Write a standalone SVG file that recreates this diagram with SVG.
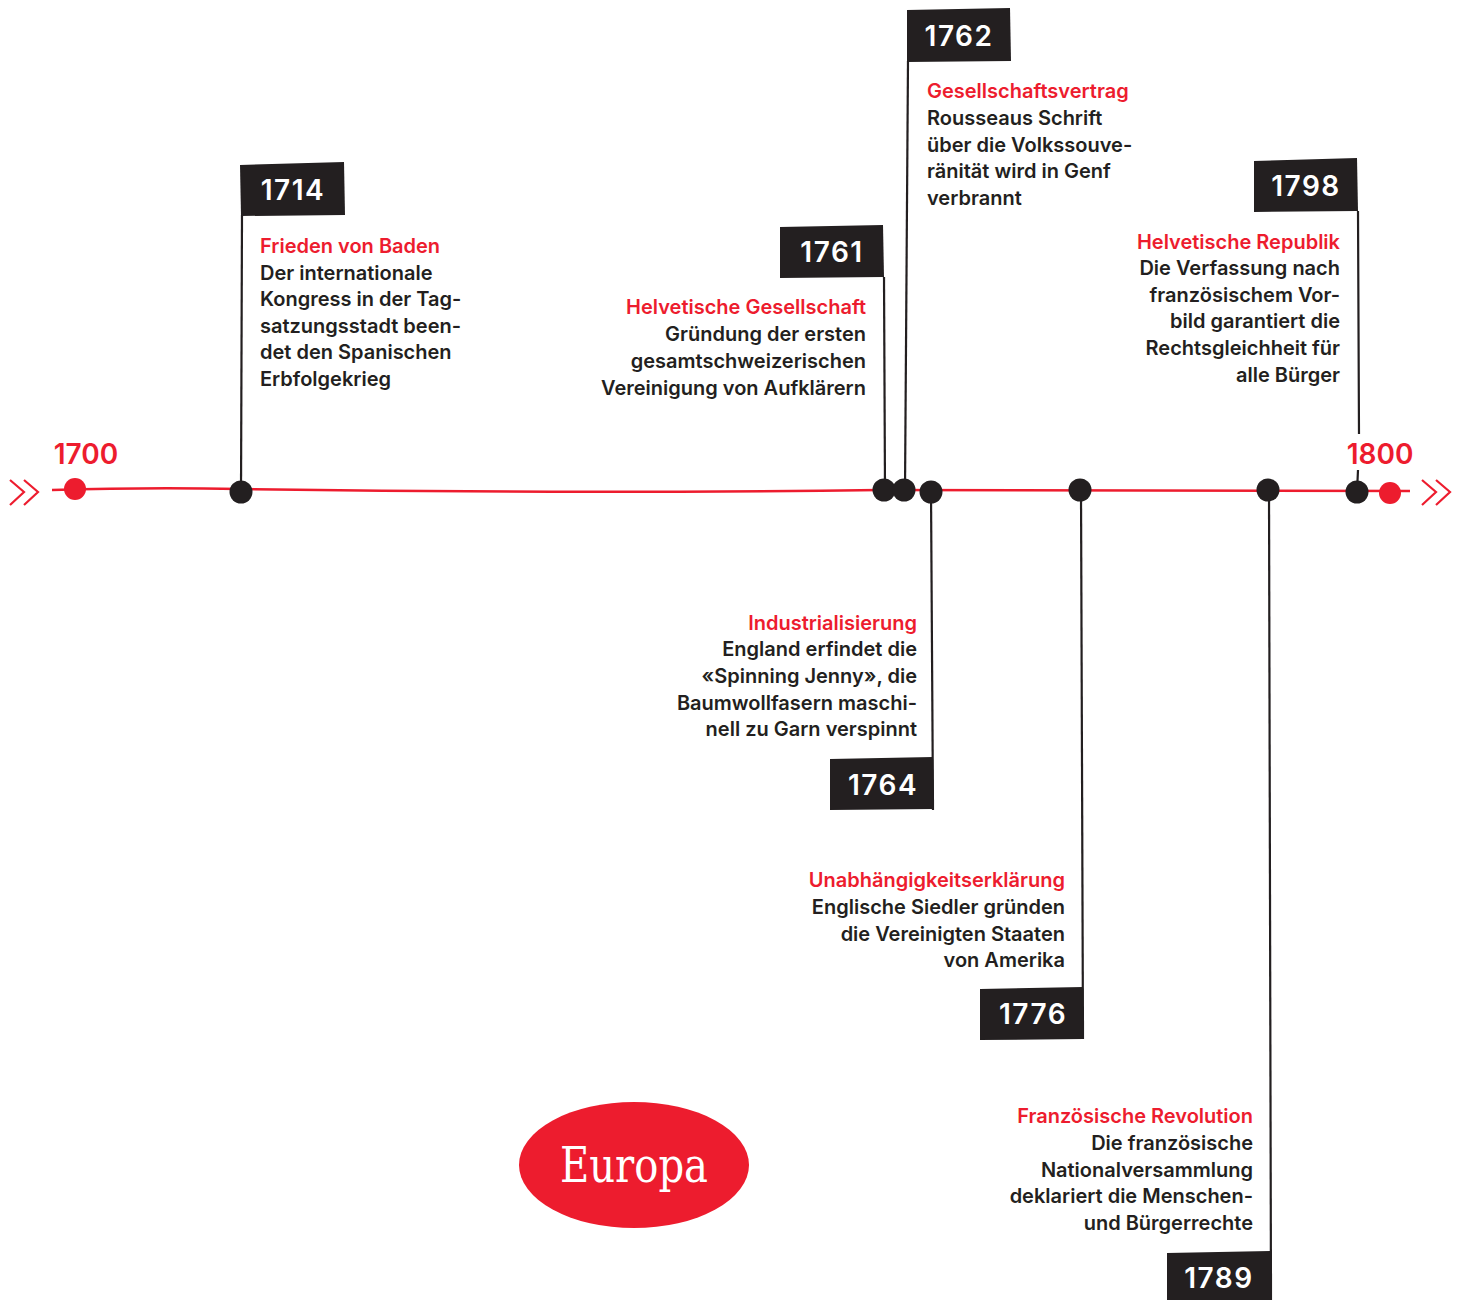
<svg xmlns="http://www.w3.org/2000/svg" width="1464" height="1300" viewBox="0 0 1464 1300">
<style>
.t{font-family:Inter,Roboto,"Liberation Sans",sans-serif;font-weight:600;font-size:20px;fill:#231F20}
.h{fill:#ED1C2E}
.r{text-anchor:end}
.tag{fill:#231F20}
.yr{font-family:Inter,Roboto,"Liberation Sans",sans-serif;font-weight:600;font-size:28px;fill:#fff;text-anchor:middle;letter-spacing:1.5px}
.big{font-family:Inter,Roboto,"Liberation Sans",sans-serif;font-weight:600;font-size:28px;fill:#ED1C2E;text-anchor:middle}
.stem{stroke:#231F20;stroke-width:2.2;fill:none}
.dot{fill:#231F20}
.rdot{fill:#ED1C2E}
.arr{stroke:#ED1C2E;stroke-width:2.2;fill:none}
</style>
<rect width="1464" height="1300" fill="#fff"/>
<g id="connectors">
<path d="M52 490 Q150 487 240 489 Q560 494 880 490 L1410 491" stroke="#ED1C2E" stroke-width="2.5" fill="none"/>
<path class="arr" d="M10 480 L24 492 L10 505 M24 480 L38 492 L24 505"/>
<path class="arr" d="M1422 480 L1436 492 L1422 505 M1436 480 L1450 492 L1436 505"/>
<path class="stem" d="M242 215 L241 492"/>
<path class="stem" d="M884 277 L885 490"/>
<path class="stem" d="M908 61 L905 490"/>
<path class="stem" d="M1358 211 L1359 434 M1358 470 L1357 492"/>
<path class="stem" d="M931 492 L933 810"/>
<path class="stem" d="M1081 490 L1083 1039"/>
<path class="stem" d="M1269 490 L1271 1300"/>
</g>
<g id="n1700"><circle class="rdot" cx="75" cy="489" r="11"/><text class="big" x="86" y="464">1700</text></g>
<g id="n1800"><circle class="rdot" cx="1390" cy="493" r="11"/><text class="big" x="1380" y="464">1800</text></g>
<g id="n1714">
<circle class="dot" cx="241" cy="492" r="11.5"/>
<path class="tag" d="M240 165 L344 162 L345 215 L241 216 Z"/>
<text class="yr" x="293" y="200">1714</text>
<text class="t h" x="260" y="253">Frieden von Baden</text>
<text class="t" x="260" y="280">Der internationale</text>
<text class="t" x="260" y="306">Kongress in der Tag-</text>
<text class="t" x="260" y="333">satzungsstadt been-</text>
<text class="t" x="260" y="359">det den Spanischen</text>
<text class="t" x="260" y="386">Erbfolgekrieg</text>
</g>
<g id="n1761">
<circle class="dot" cx="884" cy="490" r="11.5"/>
<path class="tag" d="M780 227 L883 225 L884 277 L780 278 Z"/>
<text class="yr" x="832" y="262">1761</text>
<text class="t h r" x="866" y="314">Helvetische Gesellschaft</text>
<text class="t r" x="866" y="341">Gründung der ersten</text>
<text class="t r" x="866" y="368">gesamtschweizerischen</text>
<text class="t r" x="866" y="395">Vereinigung von Aufklärern</text>
</g>
<g id="n1762">
<circle class="dot" cx="904" cy="490" r="11.5"/>
<path class="tag" d="M907 10 L1010 8 L1011 61 L907 62 Z"/>
<text class="yr" x="959" y="46">1762</text>
<text class="t h" x="927" y="98">Gesellschaftsvertrag</text>
<text class="t" x="927" y="125">Rousseaus Schrift</text>
<text class="t" x="927" y="152">über die Volkssouve-</text>
<text class="t" x="927" y="178">ränität wird in Genf</text>
<text class="t" x="927" y="205">verbrannt</text>
</g>
<g id="n1764">
<circle class="dot" cx="931" cy="492" r="11.5"/>
<path class="tag" d="M830 759 L933 757 L934 809 L830 810 Z"/>
<text class="yr" x="883" y="795">1764</text>
<text class="t h r" x="917" y="630">Industrialisierung</text>
<text class="t r" x="917" y="656">England erfindet die</text>
<text class="t r" x="917" y="683">«Spinning Jenny», die</text>
<text class="t r" x="917" y="710">Baumwollfasern maschi-</text>
<text class="t r" x="917" y="736">nell zu Garn verspinnt</text>
</g>
<g id="n1776">
<circle class="dot" cx="1080" cy="490" r="11.5"/>
<path class="tag" d="M980 989 L1083 987 L1084 1039 L980 1040 Z"/>
<text class="yr" x="1033" y="1024">1776</text>
<text class="t h r" x="1065" y="887">Unabhängigkeitserklärung</text>
<text class="t r" x="1065" y="914">Englische Siedler gründen</text>
<text class="t r" x="1065" y="941">die Vereinigten Staaten</text>
<text class="t r" x="1065" y="967">von Amerika</text>
</g>
<g id="n1789">
<circle class="dot" cx="1268" cy="490" r="11.5"/>
<path class="tag" d="M1167 1253 L1270 1251 L1271 1300 L1167 1300 Z"/>
<text class="yr" x="1219" y="1288">1789</text>
<text class="t h r" x="1253" y="1123">Französische Revolution</text>
<text class="t r" x="1253" y="1150">Die französische</text>
<text class="t r" x="1253" y="1177">Nationalversammlung</text>
<text class="t r" x="1253" y="1203">deklariert die Menschen-</text>
<text class="t r" x="1253" y="1230">und Bürgerrechte</text>
</g>
<g id="n1798">
<circle class="dot" cx="1357" cy="492" r="11.5"/>
<path class="tag" d="M1254 161 L1357 158 L1358 211 L1254 212 Z"/>
<text class="yr" x="1306" y="196">1798</text>
<text class="t h r" x="1340" y="249">Helvetische Republik</text>
<text class="t r" x="1340" y="275">Die Verfassung nach</text>
<text class="t r" x="1340" y="302">französischem Vor-</text>
<text class="t r" x="1340" y="328">bild garantiert die</text>
<text class="t r" x="1340" y="355">Rechtsgleichheit für</text>
<text class="t r" x="1340" y="382">alle Bürger</text>
</g>
<g id="europa">
<ellipse cx="634" cy="1165" rx="115" ry="63" fill="#ED1C2E"/>
<text x="634" y="1182" font-family="'DejaVu Serif',serif" font-size="48" fill="#fff" text-anchor="middle" textLength="148" lengthAdjust="spacingAndGlyphs">Europa</text>
</g>
</svg>
